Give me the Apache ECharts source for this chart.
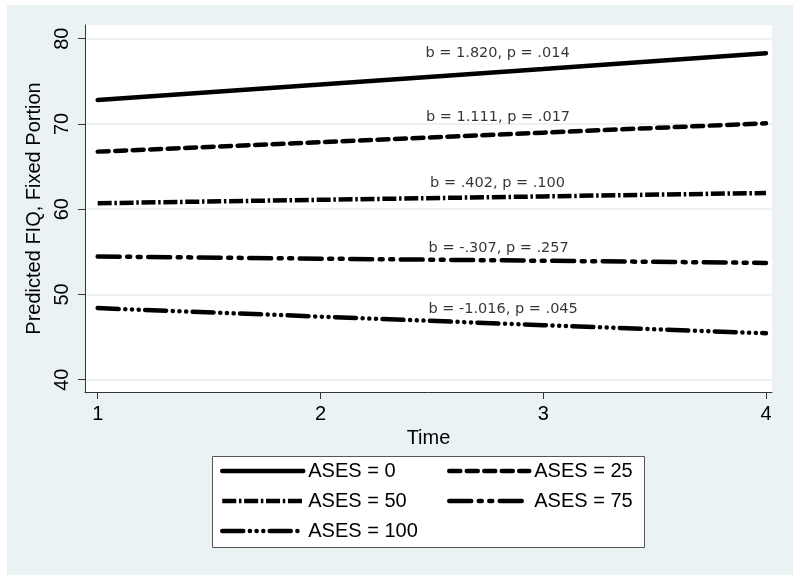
<!DOCTYPE html>
<html><head><meta charset="utf-8">
<script src="https://cdn.jsdelivr.net/npm/echarts@6/dist/echarts.min.js"></script>
<style>
html,body{margin:0;padding:0;background:#fff;}
#bg{position:absolute;left:7px;top:5px;width:786px;height:570px;background:#eaf2f3;}
#chart{position:absolute;left:0;top:0;width:800px;height:582px;}
</style></head>
<body><div id="bg"></div><div id="chart"></div>
<script>
// ---- data ----
const times = [1, 2, 3, 4];
const seriesNames = ['ASES = 0', 'ASES = 25', 'ASES = 50', 'ASES = 75', 'ASES = 100'];
const ases0   = [72.8, 74.62, 76.44, 78.3];
const ases25  = [66.75, 67.86, 68.97, 70.08];
const ases50  = [60.7, 61.1, 61.5, 61.9];
const ases75  = [54.45, 54.2, 53.95, 53.7];
const ases100 = [48.4, 47.4, 46.4, 45.45];
const yTicks = [40, 50, 60, 70, 80];
const xTicks = [1, 2, 3, 4];
const noteTexts = ['b = 1.820, p = .014', 'b = 1.111, p = .017', 'b = .402, p = .100', 'b = -.307, p = .257', 'b = -1.016, p = .045'];
const noteX = [2.795, 2.797, 2.795, 2.80, 2.82];
const noteY = [78.29, 70.79, 63.0, 55.43, 48.32];

// ---- styles ----
const values = [ases0, ases25, ases50, ases75, ases100];
const dashes = ['solid', [11, 6.5], [14, 2.7, 2.5, 2.7], [22, 7.5, 3, 7.5, 3, 7.5], [21, 6.6, 0.1, 6.6, 0.1, 6.6, 0.1, 6.4]];
const caps = ['round', 'round', 'butt', 'round', 'round'];

const lineSeries = seriesNames.map((n, i) => ({
  name: n,
  type: 'line',
  symbol: 'none',
  silent: true,
  data: times.map((t, j) => [t, values[i][j]]),
  lineStyle: { color: '#000', width: 4.5, type: dashes[i], cap: caps[i] },
  itemStyle: { color: '#000' },
  z: 3
}));

const noteSeries = {
  type: 'scatter',
  silent: true,
  symbolSize: 1,
  itemStyle: { color: 'rgba(0,0,0,0)' },
  data: noteTexts.map((t, i) => ({ name: t, value: [noteX[i], noteY[i]] })),
  label: {
    show: true, position: 'inside', formatter: p => p.name,
    fontFamily: 'DejaVu Sans', fontSize: 14.5, color: '#000'
  },
  z: 5
};

const legendCommon = {
  orient: 'vertical',
  padding: 0,
  itemHeight: 14,
  itemGap: 10,
  selectedMode: false,
  textStyle: { fontFamily: 'Liberation Sans', fontSize: 20, color: '#000' },
  lineStyle: { width: 4.5 },
  itemStyle: { opacity: 0 },
  z: 10
};

const chart = echarts.init(document.getElementById('chart'), null, { renderer: 'canvas' });
chart.setOption({
  animation: false,
  backgroundColor: 'transparent',
  grid: { left: 85, top: 25, right: 28, bottom: 190, show: true, backgroundColor: '#fff', borderWidth: 0 },
  xAxis: {
    type: 'value', min: 0.943, max: 4.027,
    name: 'Time', nameLocation: 'middle', nameGap: 33,
    nameTextStyle: { fontFamily: 'Liberation Sans', fontSize: 20, color: '#000' },
    axisLine: { show: true, onZero: false, lineStyle: { color: '#333', width: 1 } },
    axisTick: { show: true, length: 7, customValues: xTicks, lineStyle: { color: '#333' } },
    axisLabel: { customValues: xTicks, margin: 12, fontFamily: 'Liberation Sans', fontSize: 20, color: '#000' },
    splitLine: { show: false }
  },
  yAxis: {
    type: 'value', min: 38.56, max: 81.6,
    name: 'Predicted FIQ, Fixed Portion', nameLocation: 'middle', nameGap: 33,
    nameTextStyle: { fontFamily: 'Liberation Sans', fontSize: 20, color: '#000' },
    axisLine: { show: true, onZero: false, lineStyle: { color: '#333', width: 1 } },
    axisTick: { show: true, length: 7, customValues: yTicks, lineStyle: { color: '#333' } },
    axisLabel: { customValues: yTicks, rotate: 90, margin: 13, fontFamily: 'Liberation Sans', fontSize: 20, color: '#000' },
    splitLine: { show: true, lineStyle: { color: '#e4edf0', width: 1.5 } }
  },
  legend: [
    Object.assign({}, legendCommon, { data: ['ASES = 0', 'ASES = 50', 'ASES = 100'], left: 220, top: 461, itemWidth: 81 }),
    Object.assign({}, legendCommon, { data: ['ASES = 25', 'ASES = 75'], left: 447, top: 461, itemWidth: 80 })
  ],
  graphic: [{
    type: 'rect', left: 212, top: 456, z: 1,
    shape: { width: 432, height: 91 },
    style: { fill: '#fff', stroke: '#555', lineWidth: 1 }
  }],
  series: lineSeries.concat([noteSeries])
});
</script>
</body></html>
